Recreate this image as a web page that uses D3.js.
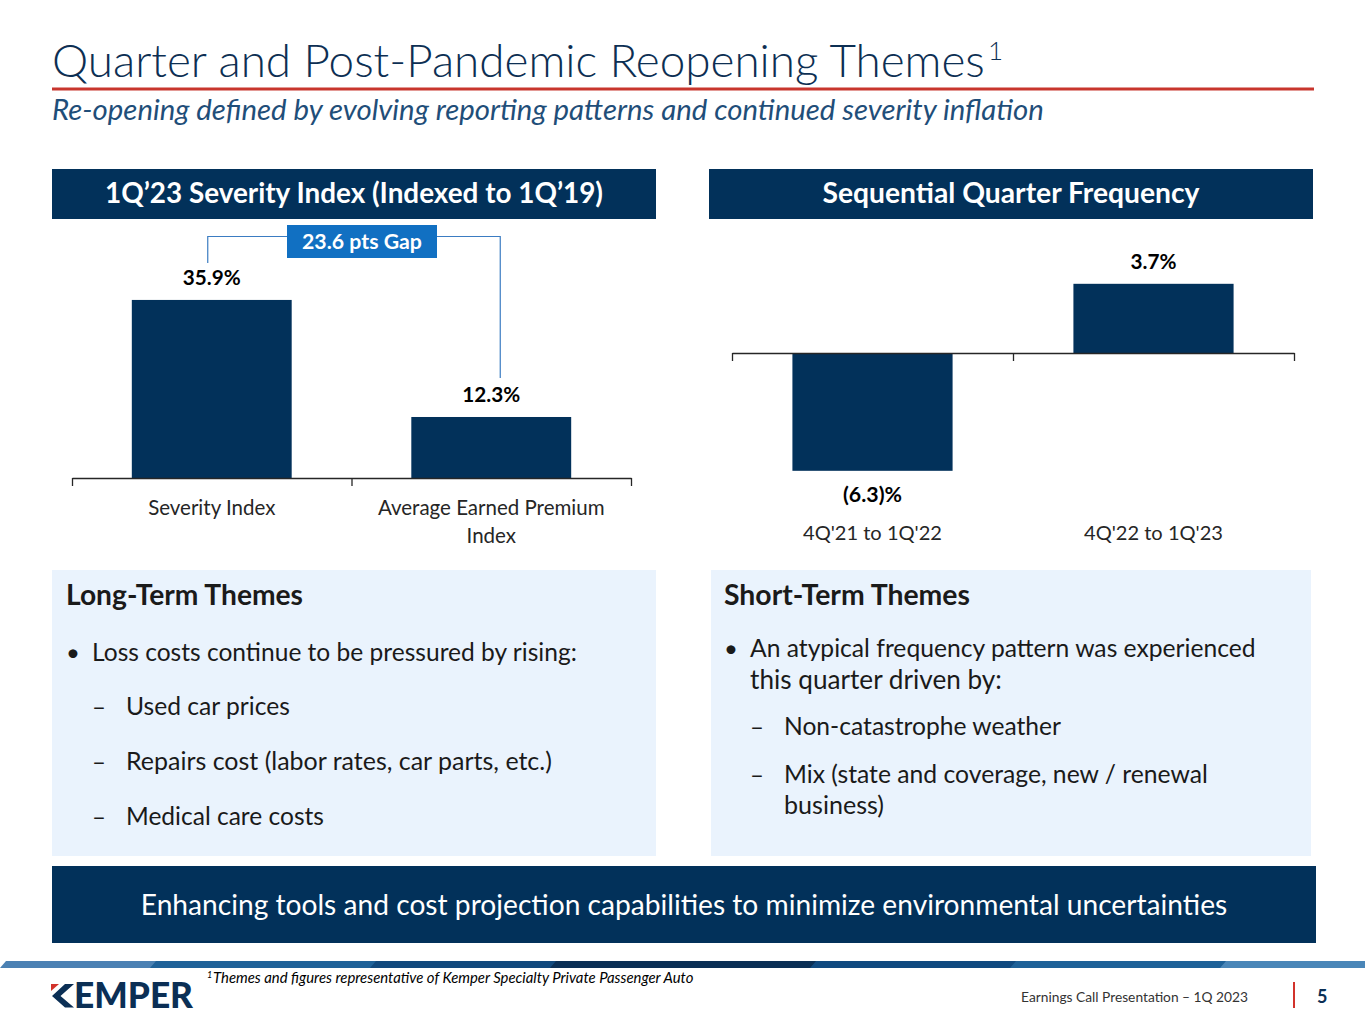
<!DOCTYPE html>
<html><head><meta charset="utf-8">
<script src="https://cdn.jsdelivr.net/npm/d3@7"></script>
<style>body{margin:0;background:#fff}svg{display:block}</style>
</head><body>
<svg id="c" width="1365" height="1024"></svg>
<script>
// ---------- data ----------
const severityCats = ["Severity Index", "Average Earned Premium Index"];
const severityVals = [35.9, 12.3];
const severityLabels = ["35.9%", "12.3%"];
const gapLabel = "23.6 pts Gap";
const freqCats = ["4Q'21 to 1Q'22", "4Q'22 to 1Q'23"];
const freqVals = [-6.3, 3.7];
const freqLabels = ["(6.3)%", "3.7%"];
const longTerm = ["Loss costs continue to be pressured by rising:"];
const longSub = ["Used car prices", "Repairs cost (labor rates, car parts, etc.)", "Medical care costs"];
const shortTerm = ["An atypical frequency pattern was experienced", "this quarter driven by:"];
const shortSub = [["Non-catastrophe weather"], ["Mix (state and coverage, new / renewal", "business)"]];

const NAVY = "#02315a", FONT = "Lato, 'Open Sans', sans-serif";
const svg = d3.select("#c");

function fit(t, w) {
  let fs = parseFloat(t.attr("font-size"));
  const len = t.node().getComputedTextLength();
  if (len > 0) t.attr("font-size", (fs * w / len).toFixed(2));
  return t;
}
function txt(x, y, s, o = {}) {
  const t = svg.append("text").attr("x", x).attr("y", y).text(s)
    .attr("font-family", o.family || FONT).attr("font-size", o.size || 20)
    .attr("fill", o.fill || "#000").attr("font-weight", o.weight || "normal")
    .attr("font-style", o.style || "normal").attr("text-anchor", o.anchor || "start");
  if (o.w) fit(t, o.w);
  return t;
}

// ---------- title ----------
txt(52, 77, "Quarter and Post-Pandemic Reopening Themes", {size: 44, fill: "#0d2f53", w: 933, weight: 300});
txt(988, 60, "1", {size: 26, fill: "#0d2f53", weight: 300});
svg.append("rect").attr("x", 52).attr("y", 87.5).attr("width", 1262).attr("height", 3).attr("fill", "#c8352d");
txt(52, 120, "Re-opening defined by evolving reporting patterns and continued severity inflation", {size: 26, fill: "#1f4e79", style: "italic", w: 992});

// ---------- headers ----------
svg.append("rect").attr("x", 52).attr("y", 169).attr("width", 604).attr("height", 50).attr("fill", NAVY);
txt(354, 203, "1Q\u201923 Severity Index (Indexed to 1Q\u201919)", {size: 26, fill: "#fff", weight: "bold", anchor: "middle", w: 498});
svg.append("rect").attr("x", 709).attr("y", 169).attr("width", 604).attr("height", 50).attr("fill", NAVY);
txt(1011, 203, "Sequential Quarter Frequency", {size: 26, fill: "#fff", weight: "bold", anchor: "middle", w: 377});

// ---------- left chart ----------
const xL = d3.scaleBand().domain(severityCats).range([72, 631]).paddingInner(0.428).paddingOuter(0.214);
const yL = d3.scaleLinear().domain([0, 40]).range([478, 279.6]);
svg.append("g").selectAll("rect").data(severityVals).join("rect")
  .attr("x", (d, i) => xL(severityCats[i])).attr("width", xL.bandwidth())
  .attr("y", d => yL(d)).attr("height", d => yL(0) - yL(d)).attr("fill", NAVY);
const axL = d3.scaleLinear().domain([0, 2]).range([72, 631]);
svg.append("g").attr("transform", `translate(0,${yL(0)})`)
  .call(d3.axisBottom(axL).tickValues([0, 1, 2]).tickSize(8).tickSizeOuter(0).tickFormat(""))
  .call(g => g.selectAll("path,line").attr("stroke", "#262626").attr("stroke-width", 1.3));
severityVals.forEach((d, i) => {
  txt(xL(severityCats[i]) + xL.bandwidth() / 2, yL(d) - 15, severityLabels[i], {size: 20, weight: "bold", anchor: "middle", w: 58});
});
function wrapLines(s, maxW, size) {
  const words = s.split(" "), lines = [];
  const probe = svg.append("text").attr("font-family", FONT).attr("font-size", size);
  let cur = "";
  words.forEach(w => {
    const test = cur ? cur + " " + w : w;
    probe.text(test);
    if (probe.node().getComputedTextLength() > maxW && cur) { lines.push(cur); cur = w; } else cur = test;
  });
  lines.push(cur); probe.remove();
  return lines;
}
severityCats.forEach((c, i) => {
  const lines = wrapLines(c, 250, 20.5);
  lines.forEach((l, j) => txt(xL(c) + xL.bandwidth() / 2, 515 + j * 28, l, {size: 20.5, fill: "#262626", anchor: "middle"}));
});
// gap annotation
const cx0 = xL(severityCats[0]) + xL.bandwidth() / 2 - 4;
const cx1 = xL(severityCats[1]) + xL.bandwidth() / 2 + 9;
const boxX = 287, boxW = 150, boxY = 225, boxH = 33, lineY = 236.5;
svg.append("path").attr("d", `M${cx0},${yL(severityVals[0]) - 37}V${lineY}H${boxX}M${boxX + boxW},${lineY}H${cx1}V${yL(severityVals[1]) - 39}`)
  .attr("fill", "none").attr("stroke", "#3b7cc2").attr("stroke-width", 1.2);
svg.append("rect").attr("x", boxX).attr("y", boxY).attr("width", boxW).attr("height", boxH).attr("fill", "#1170c2");
txt(boxX + boxW / 2, boxY + 24, gapLabel, {size: 19, weight: "bold", fill: "#fff", anchor: "middle", w: 120});

// ---------- right chart ----------
const xR = d3.scaleBand().domain(freqCats).range([732, 1294]).paddingInner(0.43).paddingOuter(0.215);
const yR = d3.scaleLinear().domain([-8, 4]).range([502.6, 278.2]);
svg.append("g").selectAll("rect").data(freqVals).join("rect")
  .attr("x", (d, i) => xR(freqCats[i])).attr("width", xR.bandwidth())
  .attr("y", d => yR(Math.max(0, d))).attr("height", d => Math.abs(yR(d) - yR(0))).attr("fill", NAVY);
const axR = d3.scaleLinear().domain([0, 2]).range([732, 1294]);
svg.append("g").attr("transform", `translate(0,${yR(0)})`)
  .call(d3.axisBottom(axR).tickValues([0, 1, 2]).tickSize(8).tickSizeOuter(0).tickFormat(""))
  .call(g => g.selectAll("path,line").attr("stroke", "#262626").attr("stroke-width", 1.3));
freqVals.forEach((d, i) => {
  const cx = xR(freqCats[i]) + xR.bandwidth() / 2;
  const y = d >= 0 ? yR(d) - 15 : yR(d) + 31;
  txt(cx, y, freqLabels[i], {size: 20, weight: "bold", anchor: "middle", w: [59, 46][i]});
  txt(cx, 540, freqCats[i], {size: 20.5, fill: "#262626", anchor: "middle", w: 139});
});

// ---------- theme boxes ----------
svg.append("rect").attr("x", 52).attr("y", 570).attr("width", 604).attr("height", 286).attr("fill", "#eaf3fd");
svg.append("rect").attr("x", 711).attr("y", 570).attr("width", 600).attr("height", 286).attr("fill", "#eaf3fd");
const TC = "#1a1a1a";
txt(66, 605, "Long-Term Themes", {size: 26, weight: "bold", fill: TC, w: 237});
txt(66, 661, "\u2022", {size: 24, fill: TC});
txt(92, 661, longTerm[0], {size: 24, fill: TC, w: 485});
longSub.forEach((s, i) => {
  const y = 715 + i * 55;
  txt(92, y, "\u2013", {size: 24, fill: TC});
  txt(126, y, s, {size: 24, fill: TC, w: [164, 426, 198][i]});
});
txt(724, 605, "Short-Term Themes", {size: 26, weight: "bold", fill: TC, w: 246});
txt(724, 657, "\u2022", {size: 24, fill: TC});
shortTerm.forEach((s, i) => txt(750, 657 + i * 32, s, {size: 24, fill: TC, w: [506, 252][i]}));
const ssY = [735, 783], ssW = [[277], [424, 100]];
shortSub.forEach((lines, i) => {
  txt(750, ssY[i], "\u2013", {size: 24, fill: TC});
  lines.forEach((l, j) => txt(784, ssY[i] + j * 31, l, {size: 24, fill: TC, w: ssW[i][j]}));
});

// ---------- banner ----------
svg.append("rect").attr("x", 52).attr("y", 866).attr("width", 1264).attr("height", 77).attr("fill", NAVY);
txt(684, 915, "Enhancing tools and cost projection capabilities to minimize environmental uncertainties", {size: 26, fill: "#fff", anchor: "middle", w: 1087});

// ---------- footer stripe ----------
const segs = [[0, 160, "#4b81b3"], [150, 380, "#1f6299"], [370, 560, "#11497d"], [550, 820, "#0a2f55"], [810, 1020, "#104a80"], [1010, 1230, "#1e6198"], [1220, 1365, "#4a86b8"]];
segs.forEach(([a, b, c]) => svg.append("path").attr("d", `M${a + 6},961H${b + 6}L${b},968H${a}Z`).attr("fill", c));

// ---------- footer ----------
// logo: K drawn as chevron with red accent, rest as text
svg.append("path").attr("d", "M65,984H74L60.5,996L74,1007.5H65L52,996Z").attr("fill", "#0b2f55");
svg.append("path").attr("d", "M51,984H59L51,991Z").attr("fill", "#d2322b");
svg.append("text").attr("x", 74).attr("y", 1007.5).attr("font-family", FONT).attr("font-weight", 900)
  .attr("font-size", 30).attr("fill", "#0b2f55").text("EMPER").call(t => fit(t, 119));
txt(207, 978, "1", {size: 9, style: "italic", fill: "#000"});
txt(213, 983, "Themes and figures representative of Kemper Specialty Private Passenger Auto", {size: 13, style: "italic", fill: "#000", w: 481});
txt(1248, 1002, "Earnings Call Presentation \u2013 1Q 2023", {size: 15, fill: "#333", anchor: "end", w: 227});
svg.append("rect").attr("x", 1293).attr("y", 982).attr("width", 2).attr("height", 26).attr("fill", "#d2322b");
txt(1317, 1003, "5", {size: 18, weight: "bold", fill: "#0b2f55"});
</script>
</body></html>
